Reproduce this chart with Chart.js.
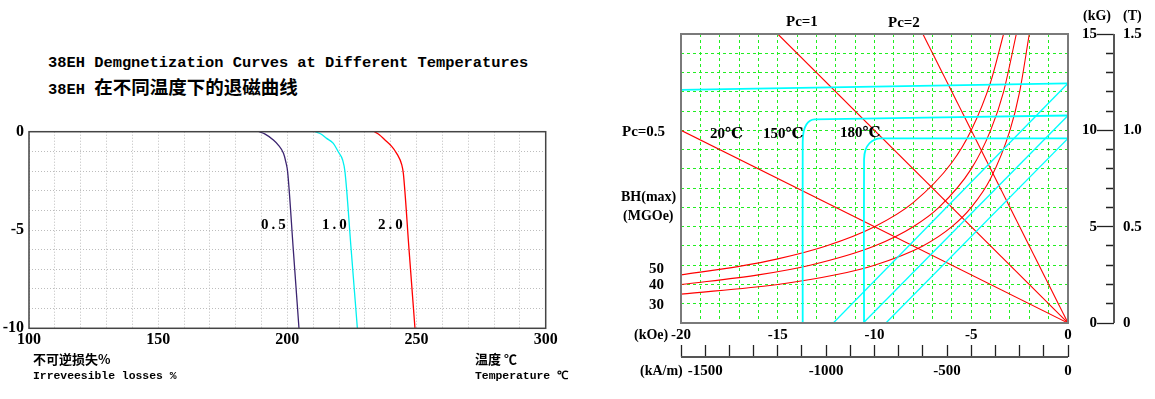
<!DOCTYPE html>
<html>
<head>
<meta charset="utf-8">
<title>38EH demagnetization curves</title>
<script src="https://cdn.jsdelivr.net/npm/chart.js"></script>
<style>
  body { margin: 0; background: #fff; }
  #page { position: relative; width: 1155px; height: 399px; overflow: hidden; }
  canvas { position: absolute; }
  .t { position: absolute; white-space: nowrap; line-height: 1; color: #000; font-weight: bold; }
  .mono { font-family: "Liberation Mono", "DejaVu Sans Mono", monospace; }
  .serif { font-family: "Liberation Serif", "DejaVu Serif", serif; }
  .cjk { font-family: "Noto Sans CJK SC", sans-serif; font-weight: 700; }
</style>
</head>
<body>
<div id="page">
  <canvas id="lossChart" width="580" height="270" style="left:0;top:100px"></canvas>
  <canvas id="bhChart" width="555" height="399" style="left:600px;top:0"></canvas>

  <div class="t mono" style="left:48px;top:56px;font-size:15.4px">38EH Demgnetization Curves at Different Temperatures</div>
  <div class="t mono" style="left:48px;top:77px;font-size:15.4px">38EH <span class="cjk" style="font-size:18.5px">在不同温度下的退磁曲线</span></div>

  <div class="t cjk" style="left:33px;top:352px;font-size:13px">不可逆损失%</div>
  <div class="t mono" style="left:33px;top:371px;font-size:11.4px">Irreveesible losses %</div>
  <div class="t cjk" style="left:475px;top:352px;font-size:13px">温度 ℃</div>
  <div class="t mono" style="left:475px;top:371px;font-size:11.4px">Temperature ℃</div>

  <div class="t serif" style="left:261px;top:217px;font-size:15px;letter-spacing:3px">0.5</div>
  <div class="t serif" style="left:322px;top:217px;font-size:15px;letter-spacing:3px">1.0</div>
  <div class="t serif" style="left:378px;top:217px;font-size:15px;letter-spacing:3px">2.0</div>

  <div class="t serif" style="left:786px;top:14px;font-size:15px">Pc=1</div>
  <div class="t serif" style="left:888px;top:15px;font-size:15px">Pc=2</div>
  <div class="t serif" style="left:622px;top:124px;font-size:15px">Pc=0.5</div>
  <div class="t serif" style="left:710px;top:126px;font-size:15px">20℃</div>
  <div class="t serif" style="left:763px;top:126px;font-size:15px">150℃</div>
  <div class="t serif" style="left:840px;top:125px;font-size:15px">180℃</div>
  <div class="t serif" style="left:621px;top:190px;font-size:14px">BH(max)</div>
  <div class="t serif" style="left:623px;top:209px;font-size:14px">(MGOe)</div>
  <div class="t serif" style="left:649px;top:261px;font-size:15px">50</div>
  <div class="t serif" style="left:649px;top:277px;font-size:15px">40</div>
  <div class="t serif" style="left:649px;top:297px;font-size:15px">30</div>
  <div class="t serif" style="left:634px;top:328px;font-size:14px">(kOe)</div>
  <div class="t serif" style="left:640px;top:364px;font-size:14px">(kA/m)</div>
  <div class="t serif" style="left:1083px;top:9px;font-size:14px">(kG)</div>
  <div class="t serif" style="left:1123px;top:9px;font-size:14px">(T)</div>
</div>

<script>
// ---- left chart: irreversible loss (%) vs temperature (C) ----
const tempTicks = [100, 150, 200, 250, 300];
const lossTicks = [0, -5, -10];

const pc05Temp = [189.0, 191.4, 194.6, 196.5, 198.5, 199.4, 200.1, 202.3, 204.5];
const pc05Loss = [0, -0.12, -0.42, -0.68, -1.1, -1.53, -2.03, -6, -10];
const pc10Temp = [210.7, 213.0, 215.2, 217.8, 219.7, 221.4, 222.3, 224.7, 227.1];
const pc10Loss = [0, -0.12, -0.34, -0.59, -1.02, -1.44, -2.03, -6, -10];
const pc20Temp = [233.7, 235.6, 237.8, 240.2, 242.3, 244.3, 244.9, 247.1, 249.4];
const pc20Loss = [0, -0.15, -0.42, -0.72, -1.1, -1.69, -2.12, -6, -10];

// ---- right chart: B (kG) vs H (kOe) ----
const kOeTicks = [-20, -15, -10, -5, 0];
const kamTicks = [-1500, -1000, -500, 0];
const kGTicks = [0, 5, 10, 15];
const teslaValues = [0, 0.5, 1, 1.5];
const teslaTicks = ['0', '0.5', '1.0', '1.5'];

// load lines Pc = 0.5, 1, 2 (from the origin to the frame)
const pcEndH = [-20, -15, -7.5];
const pcEndB = [10, 15, 15];

// BH(max) contours 50 / 40 / 30 MGOe
const bh50H = [-20, -17, -15, -12.5, -10, -8, -6, -5, -4, -3.33];
const bh50B = [2.5, 2.94, 3.33, 4, 5, 6.25, 8.33, 10, 12.5, 15];
const bh40H = [-20, -16, -13.33, -10, -8, -6.67, -5, -4, -3.33, -2.67];
const bh40B = [2, 2.5, 3, 4, 5, 6, 8, 10, 12, 15];
const bh30H = [-20, -15, -12, -10, -7.5, -6, -5, -4, -3, -2.5, -2];
const bh30B = [1.5, 2, 2.5, 3, 4, 5, 6, 7.5, 10, 12, 15];

// intrinsic curves (J)
const j20H = [-20, 0];
const j20B = [12.1, 12.44];
const j150H = [-13.71, -13.71, -13.66, -13.52, -13.33, -13.1, 0];
const j150B = [0, 9.4, 9.95, 10.3, 10.5, 10.57, 10.77];
const j180H = [-10.54, -10.54, -10.46, -10.26, -9.98, -9.68, 0];
const j180B = [0, 8.5, 9.0, 9.33, 9.52, 9.58, 9.58];

// normal curves (B)
const b20H = [-12.13, 0];
const b20B = [0, 12.44];
const b150H = [-10.58, 0];
const b150B = [0, 10.77];
const b180H = [-9.41, 0];
const b180B = [0, 9.58];

const pts = (xs, ys) => xs.map((x, i) => ({ x, y: ys[i] }));
const tickFont = (size) => ({ family: '"Liberation Serif", "DejaVu Serif", serif', size, weight: 'bold' });

Chart.defaults.color = '#000';

// frame round the plot area
const frame = {
  id: 'frame',
  afterDraw(chart, args, opts) {
    const { ctx, chartArea: a } = chart;
    ctx.save();
    ctx.strokeStyle = opts.color;
    ctx.lineWidth = opts.width;
    ctx.strokeRect(a.left, a.top, a.right - a.left, a.bottom - a.top);
    ctx.restore();
  },
};

// the detached kA/m and tesla axis lines
const axisLines = {
  id: 'axisLines',
  afterDraw(chart) {
    const { ctx, scales } = chart;
    const kam = scales.kam, tesla = scales.tesla;
    ctx.save();
    ctx.strokeStyle = '#555';
    ctx.lineWidth = 2;
    ctx.beginPath();
    const y = kam.top + 12;
    ctx.moveTo(kam.getPixelForValue(-1600), y);
    ctx.lineTo(kam.getPixelForValue(0), y);
    const x = tesla.left + 17;
    ctx.moveTo(x, tesla.getPixelForValue(0));
    ctx.lineTo(x, tesla.getPixelForValue(1.5));
    ctx.stroke();
    ctx.restore();
  },
};

const common = {
  type: 'line',
  options: {
    responsive: false,
    animation: false,
    events: [],
    plugins: { legend: { display: false }, tooltip: { enabled: false } },
    elements: { point: { radius: 0 } },
  },
};

// ---------- left chart ----------
const lossSets = [
  { temp: pc05Temp, loss: pc05Loss, color: '#3b2470' },
  { temp: pc10Temp, loss: pc10Loss, color: '#00f0f0' },
  { temp: pc20Temp, loss: pc20Loss, color: '#ff0000' },
];

new Chart(document.getElementById('lossChart'), {
  ...common,
  data: {
    datasets: lossSets.map((s) => ({
      data: pts(s.temp, s.loss),
      borderColor: s.color,
      borderWidth: 1.3,
      cubicInterpolationMode: 'monotone',
    })),
  },
  options: {
    ...common.options,
    layout: { padding: { top: 31.7, right: 34.3, bottom: 19.7, left: 0 } },
    plugins: { ...common.options.plugins, frame: { color: '#444', width: 1.5 } },
    scales: {
      x: {
        type: 'linear', min: 100, max: 300,
        afterFit: (s) => { s.height = 22; },
        grid: { color: '#bdbdbd', drawTicks: false },
        border: { display: false, dash: [1, 2] },
        ticks: {
          stepSize: 10, autoSkip: false, maxRotation: 0, padding: 2, font: tickFont(16),
          callback: (v) => (tempTicks.includes(v) ? String(v) : ''),
        },
      },
      y: {
        type: 'linear', min: -10, max: 0,
        afterFit: (s) => { s.width = 29; },
        grid: { color: '#bdbdbd', drawTicks: false },
        border: { display: false, dash: [1, 2] },
        ticks: {
          stepSize: 1, autoSkip: false, padding: 5, font: tickFont(16),
          callback: (v) => (lossTicks.includes(v) ? String(v) : ''),
        },
      },
    },
  },
  plugins: [frame],
});

// ---------- right chart ----------
const cyan = '#00ffff';
const red = '#ff0000';
const bhSets = [
  { h: b20H, b: b20B, color: cyan, w: 1.3 },
  { h: b150H, b: b150B, color: cyan, w: 1.3 },
  { h: b180H, b: b180B, color: cyan, w: 1.3 },
  { h: j20H, b: j20B, color: cyan, w: 1.8 },
  { h: j150H, b: j150B, color: cyan, w: 1.8, tension: 0.3 },
  { h: j180H, b: j180B, color: cyan, w: 1.8, tension: 0.3 },
  { h: bh50H, b: bh50B, color: red, w: 1.1, mono: true },
  { h: bh40H, b: bh40B, color: red, w: 1.1, mono: true },
  { h: bh30H, b: bh30B, color: red, w: 1.1, mono: true },
];
pcEndH.forEach((h, i) => bhSets.push({ h: [0, h], b: [0, pcEndB[i]], color: red, w: 1.1 }));

new Chart(document.getElementById('bhChart'), {
  ...common,
  data: {
    datasets: bhSets.map((s) => ({
      data: pts(s.h, s.b),
      borderColor: s.color,
      borderWidth: s.w,
      tension: s.tension || 0,
      cubicInterpolationMode: s.mono ? 'monotone' : 'default',
    })),
  },
  options: {
    ...common.options,
    layout: { padding: { top: 34, right: 8, bottom: 14, left: 81 } },
    plugins: { ...common.options.plugins, frame: { color: '#7a7a7a', width: 2 } },
    scales: {
      x: {
        type: 'linear', min: -20, max: 0, weight: 0,
        afterFit: (s) => { s.height = 22; },
        grid: { color: '#22ee22', drawTicks: false },
        border: { display: false, dash: [3, 3] },
        ticks: {
          stepSize: 1, autoSkip: false, maxRotation: 0, padding: 3, font: tickFont(15),
          callback: (v) => (kOeTicks.includes(v) ? String(v) : ''),
        },
      },
      kam: {
        axis: 'x', type: 'linear', position: 'bottom', min: -1600, max: 0, weight: 1,
        afterFit: (s) => { s.height = 40; },
        grid: { drawOnChartArea: false, drawTicks: true, tickLength: 12, color: '#222', tickWidth: 1.3 },
        border: { display: false },
        ticks: {
          stepSize: 100, autoSkip: false, maxRotation: 0, padding: 5, font: tickFont(15),
          callback: (v) => (kamTicks.includes(v) ? String(v) : ''),
        },
      },
      y: {
        type: 'linear', position: 'right', min: 0, max: 15, weight: 0,
        afterFit: (s) => { s.width = 29; },
        grid: { color: '#22ee22', drawTicks: false },
        border: { display: false, dash: [3, 3] },
        ticks: {
          stepSize: 1, autoSkip: false, padding: 9, crossAlign: 'far', font: tickFont(15),
          callback: (v) => (kGTicks.includes(v) ? String(v) : ''),
        },
      },
      tesla: {
        axis: 'y', type: 'linear', position: 'right', min: 0, max: 1.5, weight: 1,
        afterFit: (s) => { s.width = 50; },
        grid: {
          drawOnChartArea: false, drawTicks: true, tickLength: 17, color: '#222', tickWidth: 1.3,
          tickBorderDash: (c) => (teslaValues.includes(c.tick && c.tick.value) ? [] : [0, 9, 8, 40]),
        },
        border: { display: false },
        ticks: {
          stepSize: 0.1, autoSkip: false, padding: 9, font: tickFont(15),
          callback: (v) => {
            const i = teslaValues.indexOf(v);
            return i >= 0 ? teslaTicks[i] : '';
          },
        },
      },
    },
  },
  plugins: [frame, axisLines],
});
</script>
</body>
</html>
